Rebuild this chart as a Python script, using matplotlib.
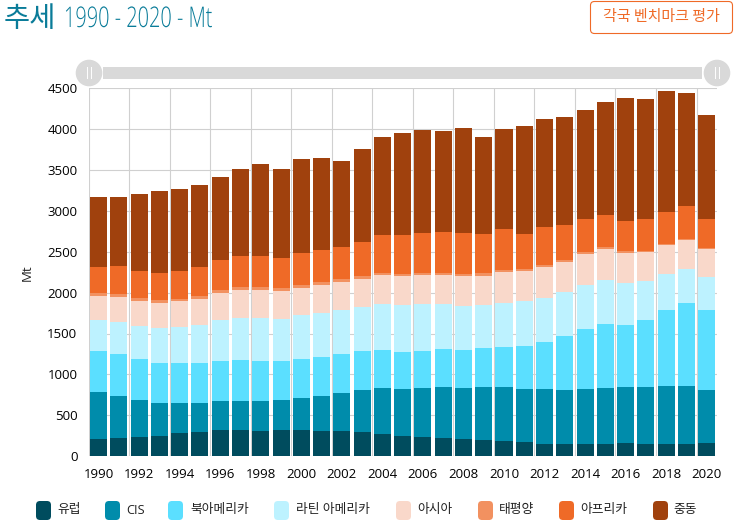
import numpy as np
import matplotlib
matplotlib.use("Agg")
import matplotlib.pyplot as plt
from matplotlib.patches import FancyBboxPatch, Circle
from matplotlib.patheffects import AbstractPathEffect
from matplotlib.transforms import Affine2D

plt.rcParams['font.family'] = ['Open Sans', 'Noto Sans CJK KR', 'DejaVu Sans']

years = list(range(1990, 2021))
europe = [204,216,233,245,282,298,314,314,310,314,318,306,306,298,269,249,233,225,212,200,184,167,151,143,143,151,155,151,151,147,159]
cis = [580,522,449,400,367,351,355,359,359,371,392,425,465,506,559,576,596,620,625,641,657,657,665,669,674,678,686,694,706,710,653]
north_america = [502,506,502,494,490,494,494,498,494,474,478,478,482,478,469,449,457,465,457,478,494,522,580,653,739,788,767,820,931,1012,976]
latin_america = [384,400,412,425,437,457,498,518,531,518,535,543,539,543,563,571,571,551,547,531,543,547,543,543,543,535,506,478,445,416,400]
asia = [294,306,302,306,318,327,339,343,343,343,339,343,343,347,355,355,359,359,363,359,380,371,380,371,380,388,376,359,355,355,347]
pacific = [33,33,37,37,33,33,33,33,33,33,37,37,33,33,29,29,24,20,24,33,24,24,20,20,20,16,16,12,8,12,12]
africa = [318,339,335,335,339,351,367,384,384,371,388,392,388,420,461,478,490,506,506,478,498,425,465,425,400,396,371,392,396,404,359]
middle_east = [860,847,942,1000,1004,1013,1020,1061,1122,1085,1149,1122,1060,1135,1204,1249,1259,1238,1280,1191,1220,1325,1326,1325,1332,1384,1507,1469,1478,1393,1274]

series = [europe, cis, north_america, latin_america, asia, pacific, africa, middle_east]
names = ['유럽', 'CIS', '북아메리카', '라틴 아메리카', '아시아', '태평양', '아프리카', '중동']
colors = ['#004c5e', '#008cab', '#5bdfff', '#bdf2ff', '#f9d8ca', '#f29160', '#ef6a27', '#a0410d']

W, H = 735, 527


# squeezes text sideways around a pixel x, the title font is condensed in the original
class Squeeze(AbstractPathEffect):
    def __init__(self, x0, sx):
        self.x0 = x0
        self.sx = sx

    def draw_path(self, renderer, gc, tpath, affine, rgbFace=None):
        squeeze = Affine2D().translate(-self.x0, 0).scale(self.sx, 1).translate(self.x0, 0)
        renderer.draw_path(gc, tpath, affine + squeeze, rgbFace)


fig = plt.figure(figsize=(W / 100, H / 100), dpi=100)

# main chart, placed by pixel box
left, right, top, bottom = 88.5, 716.8, 88.5, 456
ax = fig.add_axes([left / W, 1 - bottom / H, (right - left) / W, (bottom - top) / H])
base = np.zeros(len(years))
for vals, c in zip(series, colors):
    ax.bar(years, vals, bottom=base, width=0.84, color=c, zorder=3)
    base += np.array(vals)

ax.set_xlim(1989.5, 2020.5)
ax.set_ylim(0, 4500)
ax.set_yticks(range(0, 4501, 500))
ax.set_xticks(years[::2])
ax.tick_params(length=0, labelsize=9.5, colors='#000000')
ax.tick_params(axis='x', pad=9)
ax.tick_params(axis='y', pad=8)
ax.set_xticks(np.arange(1989.5, 2021, 2), minor=True)
ax.tick_params(which='minor', length=0)
ax.grid(axis='y', color='#d0d0d0', lw=0.8, zorder=0)
ax.grid(axis='x', which='minor', color='#d0d0d0', lw=0.8, zorder=0)
ax.grid(axis='x', which='major', visible=False)
for s in ax.spines.values():
    s.set_visible(False)
ax.set_axisbelow(True)
ax.set_ylabel('Mt', fontsize=9.5, labelpad=10, color='#222222')

# overlay in pixel coords for slider, title, button, legend
ov = fig.add_axes([0, 0, 1, 1], zorder=5)
ov.set_xlim(0, W)
ov.set_ylim(H, 0)
ov.axis('off')

ov.text(4, 19, '추세', fontsize=20.5, color='#0a7c99', va='center', ha='left', family='Noto Sans CJK KR')
ov.text(64, 20, '1990 - 2020 - Mt', fontsize=20.5, color='#0a7c99', va='center', ha='left',
        weight='light', path_effects=[Squeeze(64, 0.70)])

ov.add_patch(FancyBboxPatch((590.5, 1.5), 142, 32, boxstyle='round,pad=0,rounding_size=4',
                            fc='white', ec='#ef6a27', lw=0.8))
ov.text(661.5, 17.5, '각국 벤치마크 평가', fontsize=10.8, color='#ef6a27', ha='center', va='center',
        family='Noto Sans CJK KR')

ov.add_patch(plt.Rectangle((103, 67.3), 599, 11.4, fc='#d9d9d9', ec='none'))
for cx in (89, 717):
    ov.add_patch(Circle((cx, 73), 13.3, fc='#d9d9d9', ec='none'))
    ov.plot([cx - 2.3, cx - 2.3], [67, 78], color='white', lw=0.7)
    ov.plot([cx + 2.3, cx + 2.3], [67, 78], color='white', lw=0.7)

swatch_x = [36, 105, 168, 274, 396, 478, 559, 653]
label_x = [57.5, 126, 190, 296, 417, 499, 580, 673]
for sx, lx, name, c in zip(swatch_x, label_x, names, colors):
    ov.add_patch(FancyBboxPatch((sx, 501), 15, 19, boxstyle='round,pad=0,rounding_size=4', fc=c, ec='none'))
    ov.text(lx, 510, name, fontsize=9.2, color='#222222', va='center', ha='left')

fig.savefig('out.png', dpi=100)
